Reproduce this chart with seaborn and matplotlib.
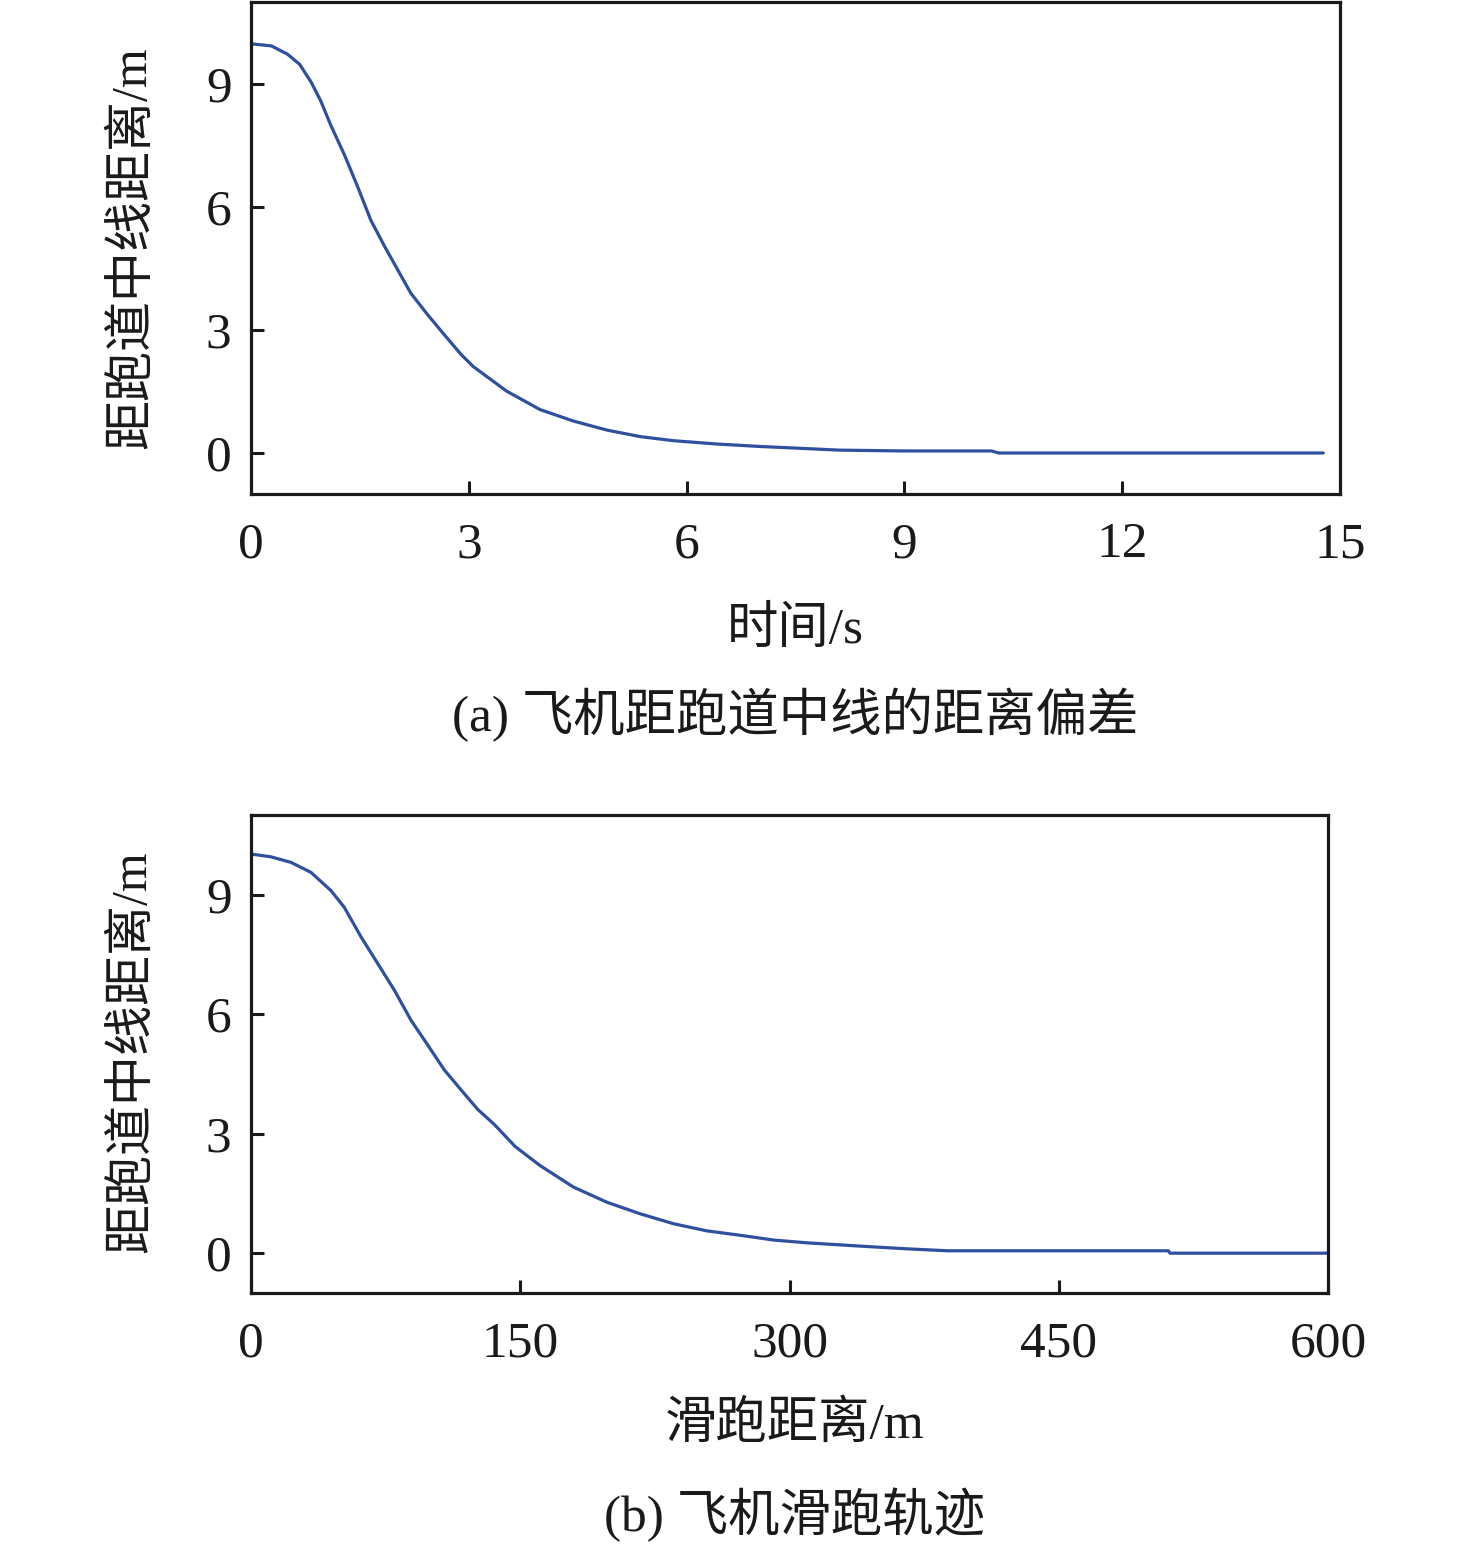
import matplotlib
matplotlib.use("Agg")
import matplotlib.pyplot as plt
import seaborn as sns
import pandas as pd

# ---- data ----
time_s = [0, 0.28, 0.5, 0.67, 0.83, 0.96, 1.10, 1.29, 1.47, 1.65, 1.84, 2.02, 2.20, 2.43,
          2.66, 2.89, 3.06, 3.52, 3.98, 4.44, 4.90, 5.36, 5.82, 6.41, 7.0, 7.5, 8.1, 9.0, 10.2,
          10.3, 12.0, 14.77]
dev_time = [9.98, 9.93, 9.73, 9.48, 9.04, 8.59, 7.99, 7.26, 6.49, 5.68, 5.04, 4.47, 3.90, 3.38,
            2.89, 2.41, 2.11, 1.51, 1.06, 0.78, 0.56, 0.40, 0.30, 0.22, 0.16, 0.12, 0.07, 0.05,
            0.05, 0.0, 0.0, 0.0]

roll_m = [0, 11.1, 22.3, 33.4, 44.6, 52.0, 61.3, 70.6, 79.9, 89.1, 98.4, 107.7, 117.0, 126.3,
          135.6, 147.1, 161.0, 179.6, 198.2, 216.7, 235.3, 253.9, 272.4, 291.0, 309.6, 342,
          365, 388, 511, 512, 600]
dev_roll = [10.02, 9.95, 9.81, 9.56, 9.10, 8.68, 7.94, 7.27, 6.60, 5.85, 5.23, 4.60, 4.10, 3.61,
            3.23, 2.68, 2.20, 1.66, 1.28, 0.99, 0.74, 0.56, 0.45, 0.33, 0.26, 0.17,
            0.11, 0.06, 0.06, 0.0, 0.0]

xticks_top = [0, 3, 6, 9, 12, 15]
xticks_bot = [0, 150, 300, 450, 600]
yticks = [0, 3, 6, 9]

ylabel = "距跑道中线距离/m"
xlabel_top = "时间/s"
xlabel_bot = "滑跑距离/m"
title_top = "(a) 飞机距跑道中线的距离偏差"
title_bot = "(b) 飞机滑跑轨迹"

# ---- style ----
sns.set_style("ticks")
plt.rcParams["font.family"] = ["Liberation Serif", "Noto Sans CJK SC"]
plt.rcParams["axes.unicode_minus"] = False

line_color = "#2F4F9F"
W, H = 1476, 1547
fig = plt.figure(figsize=(W / 100, H / 100), dpi=100)

ax1 = fig.add_axes([251 / W, 1 - 494 / H, 1089 / W, 492 / H])
ax2 = fig.add_axes([251 / W, 1 - 1293 / H, 1077 / W, 478 / H])

df1 = pd.DataFrame({"t": time_s, "d": dev_time})
df2 = pd.DataFrame({"s": roll_m, "d": dev_roll})
sns.lineplot(data=df1, x="t", y="d", ax=ax1, color=line_color, linewidth=2.3)
sns.lineplot(data=df2, x="s", y="d", ax=ax2, color=line_color, linewidth=2.3)

for ax, xt, xlim in [(ax1, xticks_top, (0, 15)), (ax2, xticks_bot, (0, 600))]:
    ax.set_xlim(*xlim)
    ax.set_ylim(-1, 11)
    ax.set_xticks(xt)
    ax.set_yticks(yticks)
    ax.set_xticklabels([str(v) for v in xt])
    ax.set_yticklabels([str(v) for v in yticks])
    ax.set_xlabel("")
    ax.set_ylabel("")
    ax.tick_params(axis="both", direction="in", length=9.5, width=2.2,
                   labelsize=37, color="#1a1a1a", labelcolor="#1a1a1a")
    ax.tick_params(axis="x", pad=20)
    ax.tick_params(axis="y", pad=14)
    for sp in ax.spines.values():
        sp.set_visible(True)
        sp.set_linewidth(2.3)
        sp.set_color("#1a1a1a")

txt_kw = dict(color="#1a1a1a", ha="center", va="center")
fig.text(133 / W, 1 - 248 / H, ylabel, rotation=90, fontsize=36, **txt_kw)
fig.text(133 / W, 1 - 1052 / H, ylabel, rotation=90, fontsize=36, **txt_kw)
fig.text(795 / W, 1 - 630 / H, xlabel_top, fontsize=37, **txt_kw)
fig.text(795 / W, 1 - 715 / H, title_top, fontsize=37, **txt_kw)
fig.text(795 / W, 1 - 1425 / H, xlabel_bot, fontsize=37, **txt_kw)
fig.text(795 / W, 1 - 1515 / H, title_bot, fontsize=37, **txt_kw)

fig.savefig("out.png", dpi=100, facecolor="white")
